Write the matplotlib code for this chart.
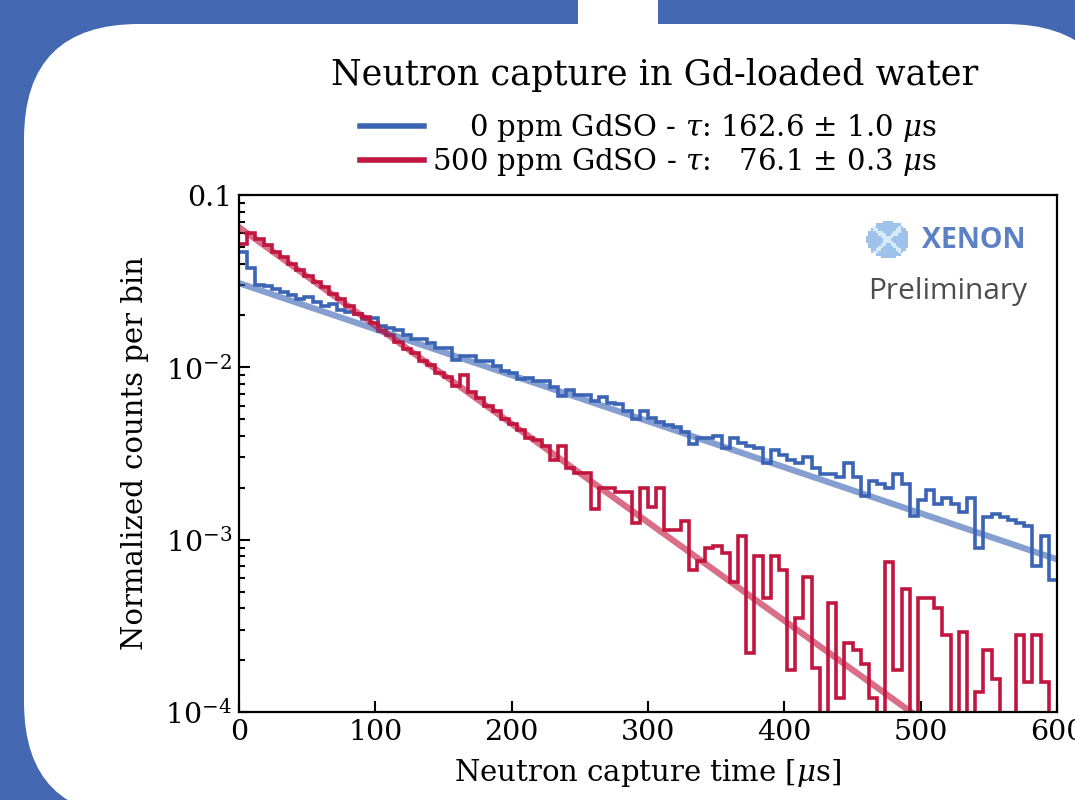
import numpy as np
import matplotlib.pyplot as plt
from matplotlib.patches import FancyBboxPatch, Rectangle
from matplotlib.lines import Line2D
from matplotlib.ticker import FixedLocator, FixedFormatter, LogLocator, NullFormatter

plt.rcParams['font.family'] = 'DejaVu Serif'
plt.rcParams['mathtext.fontset'] = 'dejavuserif'

# histogram binning (6 us bins from 0 to 600 us)
bin_width = 6.0
n_bins = 100

# normalized counts per bin, 0 ppm GdSO
counts_0ppm = [
    0.0466, 0.0375, 0.0300, 0.0298, 0.0285, 0.0274, 0.0262, 0.0250, 0.0256, 0.0240,
    0.0228, 0.0232, 0.0216, 0.0210, 0.0205, 0.0190, 0.0193, 0.0174, 0.0170, 0.0165,
    0.0155, 0.0146, 0.0146, 0.0139, 0.0130, 0.0130, 0.0111, 0.0116, 0.0116, 0.0109,
    0.0109, 0.0102, 0.0095, 0.0093, 0.0085, 0.0087, 0.0083, 0.0083, 0.0077, 0.0068,
    0.0074, 0.0069, 0.0069, 0.0064, 0.0067, 0.0062, 0.0061, 0.0056, 0.0050, 0.0056,
    0.0051, 0.0048, 0.0046, 0.0045, 0.0042, 0.0036, 0.0039, 0.0039, 0.0040, 0.0034,
    0.0039, 0.00365, 0.0035, 0.0034, 0.0028, 0.0033, 0.0031, 0.0029, 0.0028, 0.0030,
    0.0026, 0.0024, 0.0024, 0.0023, 0.0028, 0.0023, 0.0018, 0.0022, 0.0021, 0.0020,
    0.0024, 0.0021, 0.00137, 0.0017, 0.00195, 0.0016, 0.00175, 0.0016, 0.00145, 0.00175,
    0.0009, 0.00135, 0.0014, 0.00135, 0.0013, 0.00125, 0.0012, 0.0007, 0.00105, 0.00058,
]

# normalized counts per bin, 500 ppm GdSO
counts_500ppm = [
    0.052, 0.0605, 0.0555, 0.0515, 0.0470, 0.0435, 0.0400, 0.0368, 0.0340, 0.0312,
    0.0292, 0.0265, 0.0250, 0.0226, 0.0205, 0.0196, 0.0180, 0.0163, 0.0154, 0.0141,
    0.0128, 0.0121, 0.0109, 0.0103, 0.0093, 0.0088, 0.0078, 0.0090, 0.0072, 0.0066,
    0.0060, 0.0056, 0.0050, 0.0047, 0.0043, 0.0039, 0.0038, 0.0035, 0.0029, 0.0035,
    0.0026, 0.00245, 0.00245, 0.0015, 0.0020, 0.0020, 0.0019, 0.0019, 0.00125, 0.0020,
    0.00155, 0.0020, 0.00114, 0.00114, 0.00128, 0.00067, 0.00075, 0.0009, 0.00092, 0.00084,
    0.00057, 0.00105, 0.00022, 0.0008, 0.00046, 0.0008, 0.00067, 0.000175, 0.00035, 0.00061,
    0.00018, 0.0, 0.00043, 0.00012, 0.00025, 0.00023, 0.00019, 0.00012, 0.0, 0.00074,
    0.000175, 0.00052, 0.0, 0.00046, 0.00046, 0.0004, 0.00028, 0.0, 0.00029, 0.0,
    0.00013, 0.00023, 0.000155, 0.0, 0.0, 0.00028, 0.00015, 0.00028, 0.00015, 0.0,
]

# exponential fits: amplitude, tau [us]
fit_0ppm = (0.0308, 162.6)
fit_500ppm = (0.065, 76.1)

labels = ['    0 ppm GdSO - $\\tau$: 162.6 \u00b1 1.0 $\\mu$s',
          '500 ppm GdSO - $\\tau$:   76.1 \u00b1 0.3 $\\mu$s']

blue = '#3b64b4'
red = '#c0163f'

fig = plt.figure(figsize=(10.75, 8), dpi=100)
fig.patch.set_facecolor('#4468b2')

# slide background
bg = fig.add_axes([0, 0, 1, 1], zorder=0)
bg.set_xlim(0, 1075)
bg.set_ylim(800, 0)
bg.axis('off')
bg.add_patch(FancyBboxPatch((24, 24), 1096, 793, boxstyle='round,pad=0,rounding_size=115',
                            fc='white', ec='none'))
bg.add_patch(Rectangle((578, 0), 80, 30, fc='white', ec='none'))

ax = fig.add_axes([239 / 1075, 1 - 712 / 800, (1057 - 239) / 1075, (712 - 195) / 800], zorder=1)

edges = np.arange(n_bins + 1) * bin_width
ax.stairs(counts_0ppm, edges, baseline=None, color=blue, lw=2.6)
ax.stairs(counts_500ppm, edges, baseline=None, color=red, lw=2.6)

t = np.linspace(0, 600, 300)
ax.plot(t, fit_0ppm[0] * np.exp(-t / fit_0ppm[1]), color=blue, lw=4.5, alpha=0.62)
ax.plot(t, fit_500ppm[0] * np.exp(-t / fit_500ppm[1]), color=red, lw=4.5, alpha=0.62)

ax.set_yscale('log')
ax.set_xlim(0, 600)
ax.set_ylim(1e-4, 0.1)
ax.yaxis.set_major_locator(FixedLocator([1e-4, 1e-3, 1e-2, 1e-1]))
ax.yaxis.set_major_formatter(FixedFormatter(['$10^{-4}$', '$10^{-3}$', '$10^{-2}$', '0.1']))
ax.yaxis.set_minor_locator(LogLocator(base=10, subs=np.arange(2, 10)))
ax.yaxis.set_minor_formatter(NullFormatter())
ax.set_xticks([0, 100, 200, 300, 400, 500, 600])

ax.tick_params(which='both', direction='in', top=False, right=False, labelsize=20.5, width=1.5)
ax.tick_params(which='major', length=8, pad=5)
ax.tick_params(which='minor', length=4)
for s in ax.spines.values():
    s.set_linewidth(1.6)

ax.set_xlabel('Neutron capture time [$\\mu$s]', fontsize=21, labelpad=8)
ax.set_ylabel('Normalized counts per bin', fontsize=21, labelpad=12)

handles = [Line2D([], [], color=blue, lw=4), Line2D([], [], color=red, lw=4)]
ax.legend(handles, labels, loc='lower center', bbox_to_anchor=(0.5, 1.005), frameon=False,
          fontsize=21, handlelength=2.2, handletextpad=0.25, labelspacing=0.05,
          borderaxespad=0.1)

fig.text(655 / 1075, 1 - 75 / 800, 'Neutron capture in Gd-loaded water', fontsize=25.2,
         ha='center', va='center')

# XENON Preliminary mark, drawn above the plot area
top = fig.add_axes([0, 0, 1, 1], zorder=3)
top.set_xlim(0, 1075)
top.set_ylim(800, 0)
top.axis('off')
xs, ys = np.meshgrid(np.arange(-21, 22, 2.5), np.arange(-18, 19, 2.5))
inside = (xs / 21.5) ** 2 + (ys / 18.5) ** 2 <= 1
diag = (np.abs(np.abs(xs) - np.abs(ys) * 1.1) < 3) & (np.abs(xs) < 14)
dot_colors = np.where(diag[inside], '#d6ecfb', '#9fc2ea')
top.scatter(888 + xs[inside], 240 + ys[inside], s=4.5, marker='s', c=dot_colors, lw=0)
top.text(1026, 241, 'XENON', fontfamily='Open Sans', fontweight='bold', fontsize=20.5,
         color='#5b80c4', ha='right', va='center')
top.text(1027, 292, 'Preliminary', fontfamily='Open Sans', fontsize=21.5, color='#4d4d4d',
         ha='right', va='center')

fig.savefig('out.png', dpi=100, facecolor=fig.get_facecolor())
